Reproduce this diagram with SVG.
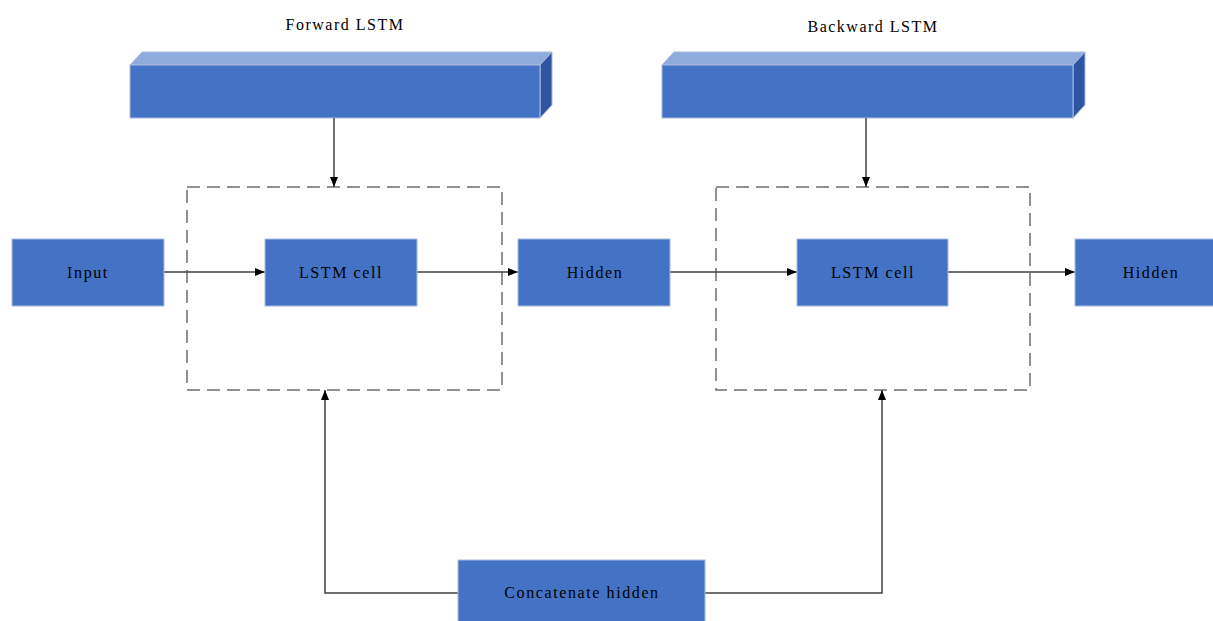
<svg xmlns="http://www.w3.org/2000/svg" width="1213" height="621" viewBox="0 0 1213 621">
  <style>
    .box { fill: #4472C4; stroke: #A9BCE0; stroke-width: 1; }
    .top { fill: #8FAADC; stroke: #A9BCE0; stroke-width: 1; }
    .side { fill: #2F55A2; stroke: #A9BCE0; stroke-width: 1; }
    .lbl { font-family: "Liberation Serif", "Times New Roman", serif; font-size: 16px; letter-spacing: 1.6px; fill: #000; text-anchor: middle; dominant-baseline: central; }
    .title { font-family: "Liberation Serif", "Times New Roman", serif; font-size: 16px; letter-spacing: 1.5px; fill: #000; text-anchor: middle; }
    .dash { fill: none; stroke: #6E6E6E; stroke-width: 1.5; stroke-dasharray: 13 7; }
    .conn { fill: none; stroke: #404040; stroke-width: 1.5; }
  </style>
  <defs>
    <marker id="ah" markerWidth="10" markerHeight="8" refX="10" refY="4" orient="auto" markerUnits="userSpaceOnUse">
      <path d="M0,0 L10,4 L0,8 Z" fill="#000"/>
    </marker>
  </defs>
  <rect width="1213" height="621" fill="#fff"/>

  <g id="forward-lstm">
    <text class="title" x="345" y="30">Forward LSTM</text>
    <polygon class="top" points="130,65 142,52 552,52 540,65"/>
    <polygon class="side" points="540,65 552,52 552,105 540,118"/>
    <rect class="box" x="130" y="65" width="410" height="53"/>
  </g>
  <g id="backward-lstm">
    <text class="title" x="873" y="32">Backward LSTM</text>
    <polygon class="top" points="662,65 674,52 1085,52 1073,65"/>
    <polygon class="side" points="1073,65 1085,52 1085,105 1073,118"/>
    <rect class="box" x="662" y="65" width="411" height="53"/>
  </g>

  <g id="forward-frame">
    <rect class="dash" x="187" y="187" width="315" height="203"/>
  </g>
  <g id="backward-frame">
    <rect class="dash" x="716" y="187" width="314" height="203"/>
  </g>

  <g id="connectors">
    <line class="conn" x1="334" y1="118" x2="334" y2="187" marker-end="url(#ah)"/>
    <line class="conn" x1="866" y1="118" x2="866" y2="187" marker-end="url(#ah)"/>
    <line class="conn" x1="164" y1="272" x2="265" y2="272" marker-end="url(#ah)"/>
    <line class="conn" x1="417" y1="272" x2="518" y2="272" marker-end="url(#ah)"/>
    <line class="conn" x1="670" y1="272" x2="797" y2="272" marker-end="url(#ah)"/>
    <line class="conn" x1="948" y1="272" x2="1075" y2="272" marker-end="url(#ah)"/>
    <polyline class="conn" points="458,593 325,593 325,390" marker-end="url(#ah)"/>
    <polyline class="conn" points="705,593 882,593 882,390" marker-end="url(#ah)"/>
  </g>

  <g id="input">
    <rect class="box" x="12" y="239" width="152" height="67"/>
    <text class="lbl" x="88" y="272">Input</text>
  </g>
  <g id="lstm-cell-forward">
    <rect class="box" x="265" y="239" width="152" height="67"/>
    <text class="lbl" x="341" y="272">LSTM cell</text>
  </g>
  <g id="hidden-1">
    <rect class="box" x="518" y="239" width="152" height="67"/>
    <text class="lbl" x="595" y="272">Hidden</text>
  </g>
  <g id="lstm-cell-backward">
    <rect class="box" x="797" y="239" width="151" height="67"/>
    <text class="lbl" x="873" y="272">LSTM cell</text>
  </g>
  <g id="hidden-2">
    <rect class="box" x="1075" y="239" width="151" height="67"/>
    <text class="lbl" x="1151" y="272">Hidden</text>
  </g>
  <g id="concatenate-hidden">
    <rect class="box" x="458" y="560" width="247" height="66"/>
    <text class="lbl" x="582" y="592">Concatenate hidden</text>
  </g>
</svg>
